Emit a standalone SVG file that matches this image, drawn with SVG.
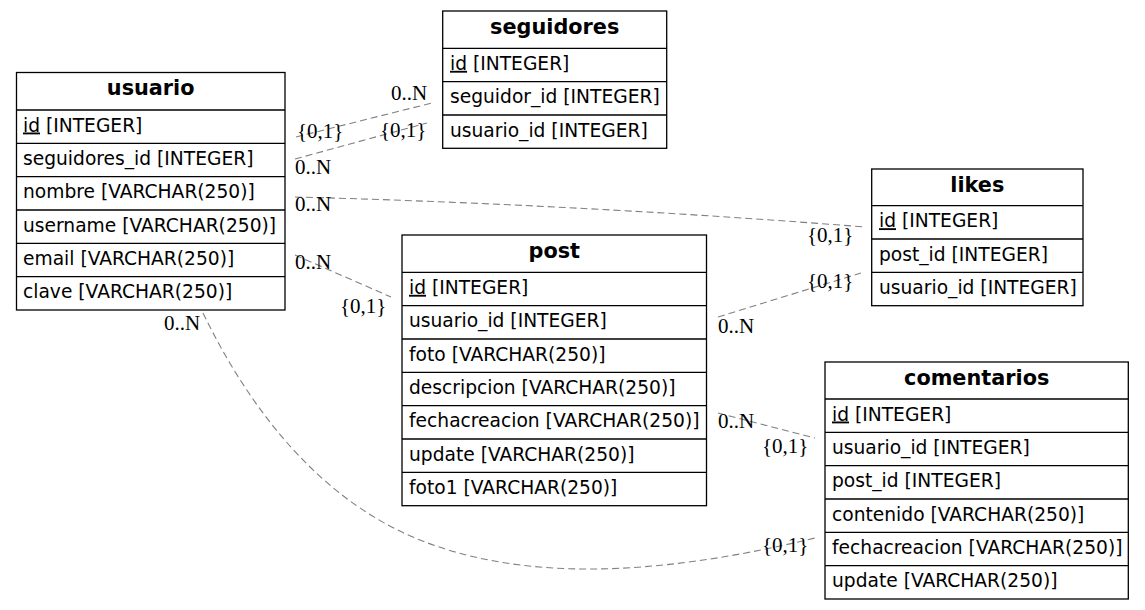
<svg xmlns="http://www.w3.org/2000/svg" width="1145" height="610" viewBox="0 0 1145 610">
<style>
.bg{fill:#ffffff}
.box{fill:#ffffff;stroke:#000000;stroke-width:1.3}
.sep{stroke:#000000;stroke-width:1.3}
.hd{font-family:"DejaVu Sans",sans-serif;font-weight:bold;font-size:20.8px;fill:#000;text-anchor:middle}
.rw{font-family:"DejaVu Sans",sans-serif;font-size:18.67px;fill:#000}
.pk{text-decoration:underline}
.edge{fill:none;stroke:#808080;stroke-width:1.1;stroke-dasharray:7,4}
.lb{font-family:"Liberation Serif","Times New Roman",serif;font-size:21px;fill:#000}
</style>
<rect class="bg" x="0" y="0" width="1145" height="610"/>

<g id="connectors">
  <path class="edge" d="M296,137 L432,103"/>
  <path class="edge" d="M295,159 L427,123"/>
  <path class="edge" d="M295,197 C450,201 650,210 865,227"/>
  <path class="edge" d="M295,255 L391,297"/>
  <path class="edge" d="M718,317 L861,273"/>
  <path class="edge" d="M718,413 L815,438"/>
  <path class="edge" d="M203,313 C250,410 320,500 420,540 S650,578 815,538"/>
  <text class="lb" x="297" y="138">{0,1}</text>
  <text class="lb" x="391" y="100">0..N</text>
  <text class="lb" x="295" y="174">0..N</text>
  <text class="lb" x="380" y="137">{0,1}</text>
  <text class="lb" x="295" y="211">0..N</text>
  <text class="lb" x="807" y="242">{0,1}</text>
  <text class="lb" x="295" y="269">0..N</text>
  <text class="lb" x="340" y="313">{0,1}</text>
  <text class="lb" x="718" y="333">0..N</text>
  <text class="lb" x="807" y="288">{0,1}</text>
  <text class="lb" x="718" y="428">0..N</text>
  <text class="lb" x="762" y="453">{0,1}</text>
  <text class="lb" x="164" y="330">0..N</text>
  <text class="lb" x="762" y="552">{0,1}</text>
</g>

<g id="usuario">
  <rect class="box" x="16.5" y="72.5" width="268.5" height="237.5"/>
  <line class="sep" x1="16.5" y1="110" x2="285" y2="110"/>
  <line class="sep" x1="16.5" y1="143.3" x2="285" y2="143.3"/>
  <line class="sep" x1="16.5" y1="176.7" x2="285" y2="176.7"/>
  <line class="sep" x1="16.5" y1="210" x2="285" y2="210"/>
  <line class="sep" x1="16.5" y1="243.3" x2="285" y2="243.3"/>
  <line class="sep" x1="16.5" y1="276.7" x2="285" y2="276.7"/>
  <text class="hd" x="150.7" y="95">usuario</text>
  <text class="rw" x="23" y="131.5"><tspan class="pk">id</tspan> [INTEGER]</text>
  <text class="rw" x="23" y="164.8">seguidores_id [INTEGER]</text>
  <text class="rw" x="23" y="198.2">nombre [VARCHAR(250)]</text>
  <text class="rw" x="23" y="231.5">username [VARCHAR(250)]</text>
  <text class="rw" x="23" y="264.8">email [VARCHAR(250)]</text>
  <text class="rw" x="23" y="298.2">clave [VARCHAR(250)]</text>
</g>

<g id="seguidores">
  <rect class="box" x="442.7" y="11" width="224" height="137.3"/>
  <line class="sep" x1="442.7" y1="48.3" x2="666.7" y2="48.3"/>
  <line class="sep" x1="442.7" y1="81.7" x2="666.7" y2="81.7"/>
  <line class="sep" x1="442.7" y1="115" x2="666.7" y2="115"/>
  <text class="hd" x="554.7" y="33.5">seguidores</text>
  <text class="rw" x="450" y="69.8"><tspan class="pk">id</tspan> [INTEGER]</text>
  <text class="rw" x="450" y="103.2">seguidor_id [INTEGER]</text>
  <text class="rw" x="450" y="136.5">usuario_id [INTEGER]</text>
</g>

<g id="likes">
  <rect class="box" x="871.7" y="169" width="211.3" height="136.7"/>
  <line class="sep" x1="871.7" y1="205.7" x2="1083" y2="205.7"/>
  <line class="sep" x1="871.7" y1="239" x2="1083" y2="239"/>
  <line class="sep" x1="871.7" y1="272.3" x2="1083" y2="272.3"/>
  <text class="hd" x="977.3" y="191.5">likes</text>
  <text class="rw" x="879" y="227.2"><tspan class="pk">id</tspan> [INTEGER]</text>
  <text class="rw" x="879" y="260.5">post_id [INTEGER]</text>
  <text class="rw" x="879" y="293.8">usuario_id [INTEGER]</text>
</g>

<g id="post">
  <rect class="box" x="402" y="235" width="304.5" height="270.7"/>
  <line class="sep" x1="402" y1="272.3" x2="706.5" y2="272.3"/>
  <line class="sep" x1="402" y1="305.7" x2="706.5" y2="305.7"/>
  <line class="sep" x1="402" y1="339" x2="706.5" y2="339"/>
  <line class="sep" x1="402" y1="372.3" x2="706.5" y2="372.3"/>
  <line class="sep" x1="402" y1="405.7" x2="706.5" y2="405.7"/>
  <line class="sep" x1="402" y1="439" x2="706.5" y2="439"/>
  <line class="sep" x1="402" y1="472.3" x2="706.5" y2="472.3"/>
  <text class="hd" x="554.3" y="257.5">post</text>
  <text class="rw" x="409" y="293.8"><tspan class="pk">id</tspan> [INTEGER]</text>
  <text class="rw" x="409" y="327.2">usuario_id [INTEGER]</text>
  <text class="rw" x="409" y="360.5">foto [VARCHAR(250)]</text>
  <text class="rw" x="409" y="393.8">descripcion [VARCHAR(250)]</text>
  <text class="rw" x="409" y="427.2">fechacreacion [VARCHAR(250)]</text>
  <text class="rw" x="409" y="460.5">update [VARCHAR(250)]</text>
  <text class="rw" x="409" y="493.8">foto1 [VARCHAR(250)]</text>
</g>

<g id="comentarios">
  <rect class="box" x="825" y="362" width="303.3" height="237"/>
  <line class="sep" x1="825" y1="399" x2="1128.3" y2="399"/>
  <line class="sep" x1="825" y1="432.3" x2="1128.3" y2="432.3"/>
  <line class="sep" x1="825" y1="465.7" x2="1128.3" y2="465.7"/>
  <line class="sep" x1="825" y1="499" x2="1128.3" y2="499"/>
  <line class="sep" x1="825" y1="532.3" x2="1128.3" y2="532.3"/>
  <line class="sep" x1="825" y1="565.7" x2="1128.3" y2="565.7"/>
  <text class="hd" x="976.7" y="384.5">comentarios</text>
  <text class="rw" x="832" y="420.5"><tspan class="pk">id</tspan> [INTEGER]</text>
  <text class="rw" x="832" y="453.8">usuario_id [INTEGER]</text>
  <text class="rw" x="832" y="487.2">post_id [INTEGER]</text>
  <text class="rw" x="832" y="520.5">contenido [VARCHAR(250)]</text>
  <text class="rw" x="832" y="553.8">fechacreacion [VARCHAR(250)]</text>
  <text class="rw" x="832" y="587.2">update [VARCHAR(250)]</text>
</g>
</svg>
